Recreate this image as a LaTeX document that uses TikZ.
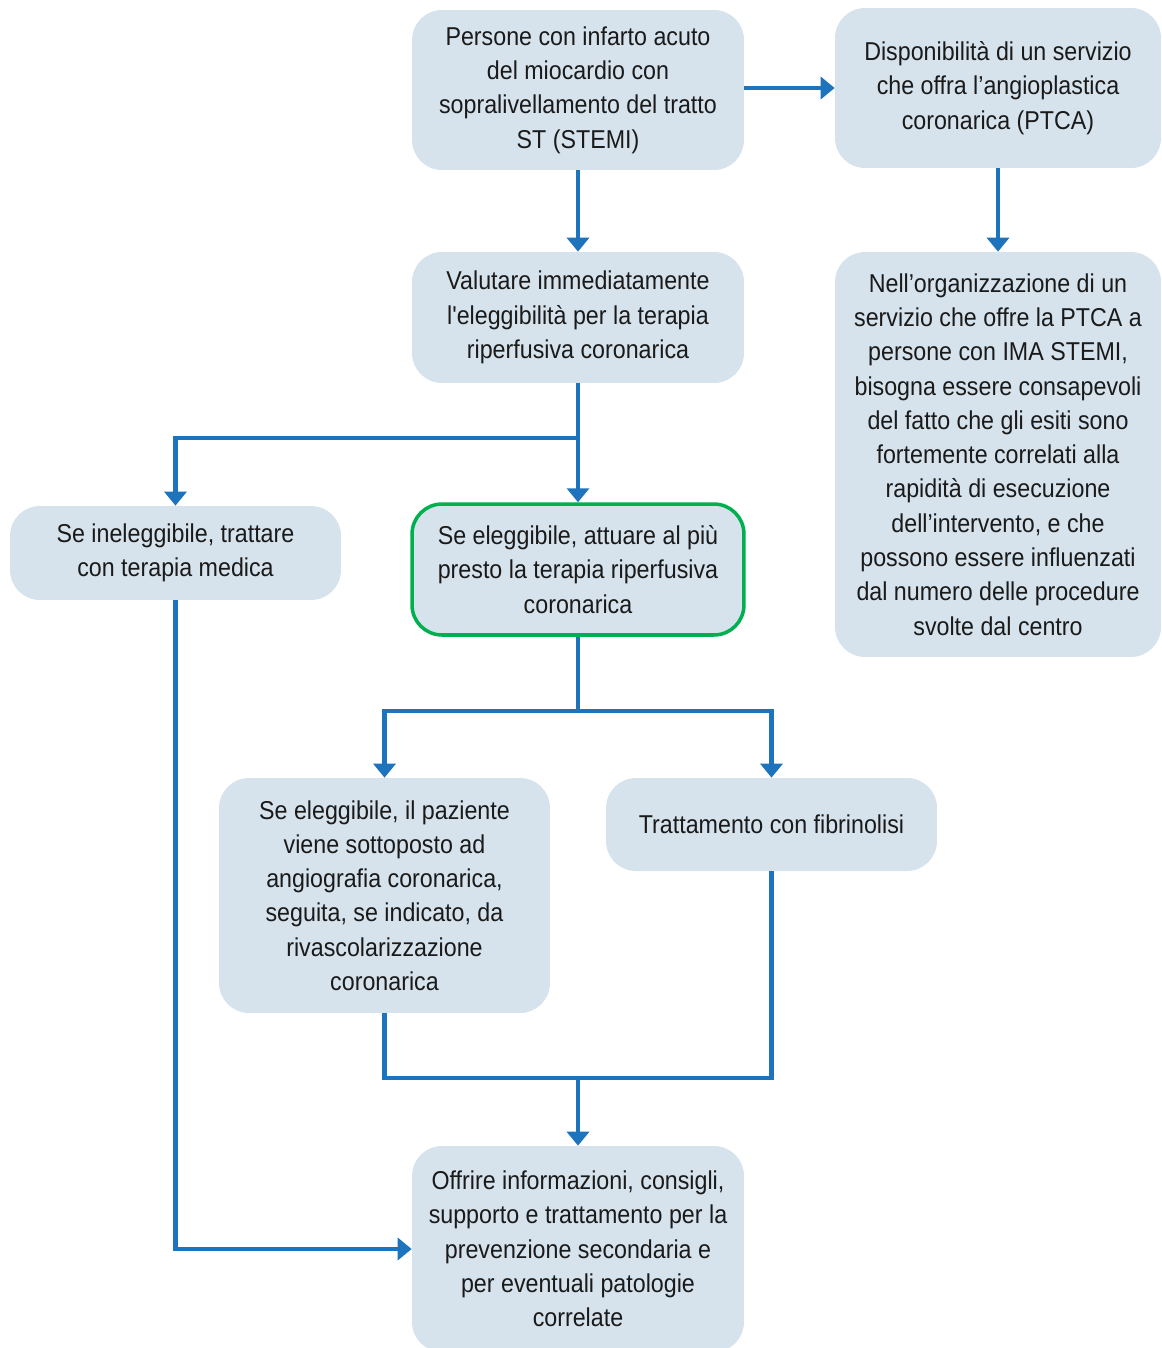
\documentclass[tikz,border=0pt]{standalone}
\usepackage{fontspec}
\setmainfont[FakeStretch=0.9,Ligatures=TeXOff]{Liberation Sans}
\usepackage{tikz}
\usetikzlibrary{arrows.meta,positioning,calc}
\definecolor{boxfill}{HTML}{D6E3EC}
\definecolor{linkblue}{HTML}{1E74BC}
\definecolor{okgreen}{HTML}{00B050}
\definecolor{txt}{HTML}{1A1A1A}

\begin{document}
\begin{tikzpicture}[
    x=0.02cm, y=-0.02cm,
    box/.style={rectangle, rounded corners=0.6cm, fill=boxfill, text=txt, align=center,
        inner sep=0pt, font=\fontsize{14.7}{19.5}\selectfont},
    chosen/.style={box, draw=okgreen, line width=2pt},
    link/.style={draw=linkblue, line width=2.3pt},
    arrow/.style={link, -{Triangle[width=0.44cm,length=0.28cm]}}
]
    \useasboundingbox[fill=white] (0,0) rectangle (1162,1348);

    % Riquadri
    \node[box, minimum width=6.64cm, minimum height=3.2cm] (stemi) at (578,90)
        {Persone con infarto acuto\\del miocardio con\\sopralivellamento del tratto\\ST (STEMI)};
    \node[box, minimum width=6.52cm, minimum height=3.2cm] (ptca) at (998,88)
        {Disponibilità di un servizio\\che offra l’angioplastica\\coronarica (PTCA)};
    \node[box, minimum width=6.64cm, minimum height=2.62cm] (valuta) at (578,317.5)
        {Valutare immediatamente\\l'eleggibilità per la terapia\\riperfusiva coronarica};
    \node[box, minimum width=6.52cm, minimum height=8.1cm] (organizza) at (998,454.5)
        {Nell’organizzazione di un\\servizio che offre la PTCA a\\persone con IMA STEMI,\\bisogna essere consapevoli\\del fatto che gli esiti sono\\fortemente correlati alla\\rapidità di esecuzione\\dell’intervento, e che\\possono essere influenzati\\dal numero delle procedure\\svolte dal centro};
    \node[box, minimum width=6.62cm, minimum height=1.88cm] (inelegg) at (175.5,553)
        {Se ineleggibile, trattare\\con terapia medica};
    \node[chosen, minimum width=6.64cm, minimum height=2.62cm] (elegg) at (578,569.5)
        {Se eleggibile, attuare al più\\presto la terapia riperfusiva\\coronarica};
    \node[box, minimum width=6.62cm, minimum height=4.7cm] (angio) at (384.5,895.5)
        {Se eleggibile, il paziente\\viene sottoposto ad\\angiografia coronarica,\\seguita, se indicato, da\\rivascolarizzazione\\coronarica};
    \node[box, minimum width=6.62cm, minimum height=1.86cm] (fibrino) at (771.5,824.5)
        {Trattamento con fibrinolisi};
    \node[box, minimum width=6.64cm, minimum height=4.12cm] (offrire) at (578,1249)
        {Offrire informazioni, consigli,\\supporto e trattamento per la\\prevenzione secondaria e\\per eventuali patologie\\correlate};

    % Punti di snodo
    \coordinate (split1) at (578,438);
    \coordinate (split2) at (578,711);
    \coordinate (merge) at (578,1078);

    % Frecce
    \draw[arrow] (stemi.east |- ptca.west) -- (ptca.west);
    \draw[arrow] (stemi) -- (valuta);
    \draw[arrow] (ptca) -- (organizza);
    \draw[arrow] (valuta) -- (elegg);
    \draw[arrow] (split1) -| (inelegg.north);
    \draw[link] (elegg.south) -- (split2);
    \draw[arrow] (split2) -| (angio.north);
    \draw[arrow] (split2) -| (fibrino.north);
    \draw[link] (angio.south) -- (angio.south |- merge) -- (fibrino.south |- merge) -- (fibrino.south);
    \draw[arrow] (merge) -- (offrire.north);
    \draw[arrow] (inelegg.south) |- (offrire.west);
\end{tikzpicture}
\end{document}
